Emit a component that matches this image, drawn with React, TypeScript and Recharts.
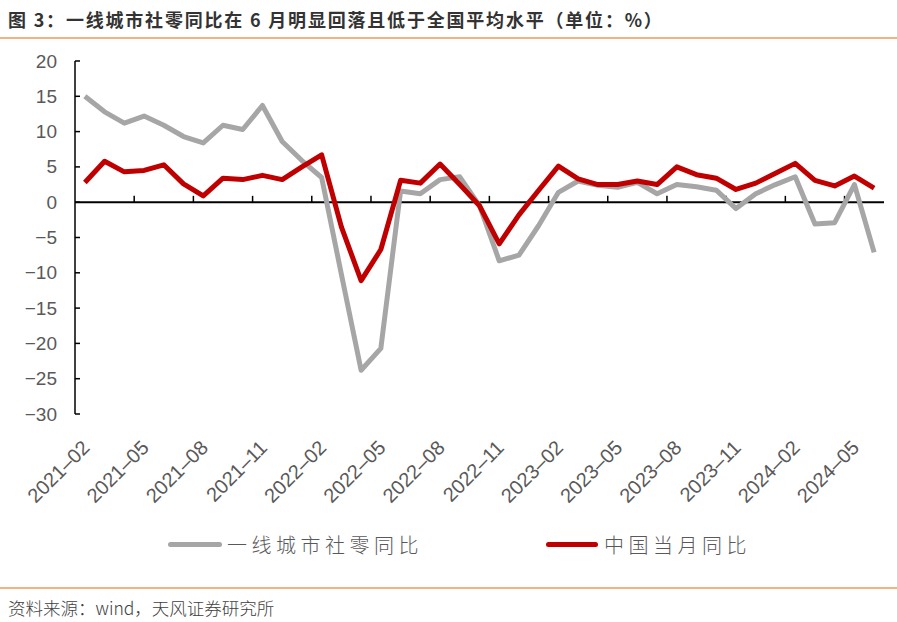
import React from "react";
import { LineChart, Line, XAxis, YAxis, ReferenceLine } from "recharts";

const months = [
  "2021-02", "2021-03", "2021-04", "2021-05", "2021-06", "2021-07", "2021-08", "2021-09", "2021-10", "2021-11", "2021-12",
  "2022-01", "2022-02", "2022-03", "2022-04", "2022-05", "2022-06", "2022-07", "2022-08", "2022-09", "2022-10", "2022-11", "2022-12",
  "2023-01", "2023-02", "2023-03", "2023-04", "2023-05", "2023-06", "2023-07", "2023-08", "2023-09", "2023-10", "2023-11", "2023-12",
  "2024-01", "2024-02", "2024-03", "2024-04", "2024-05", "2024-06",
];

const tierOne = [
  15.0, 12.8, 11.2, 12.2, 10.9, 9.3, 8.4, 10.9, 10.3, 13.7, 8.6,
  5.9, 3.5, -10.2, -23.8, -20.7, 1.6, 1.2, 3.2, 3.6, -0.5, -8.3, -7.5,
  -3.3, 1.4, 3.0, 2.4, 2.1, 2.8, 1.2, 2.5, 2.2, 1.7, -0.9, 1.2,
  2.5, 3.6, -3.1, -2.9, 2.5, -7.1,
];

const national = [
  2.8, 5.8, 4.3, 4.5, 5.3, 2.6, 0.9, 3.4, 3.2, 3.8, 3.2,
  5.0, 6.7, -3.5, -11.1, -6.7, 3.1, 2.7, 5.4, 2.5, -0.5, -5.9, -1.8,
  1.7, 5.1, 3.3, 2.5, 2.5, 3.0, 2.5, 5.0, 3.9, 3.4, 1.8, 2.7,
  4.1, 5.5, 3.1, 2.3, 3.7, 2.0,
];

const xTickLabels = [
  "2021-02", "2021-05", "2021-08", "2021-11", "2022-02", "2022-05", "2022-08",
  "2022-11", "2023-02", "2023-05", "2023-08", "2023-11", "2024-02", "2024-05",
];

const yTicks = [20, 15, 10, 5, 0, -5, -10, -15, -20, -25, -30];

const seriesNames = ["一线城市社零同比", "中国当月同比"];
const seriesColors = ["#A6A6A6", "#C00000"];

const data = months.map((m, i) => ({ idx: i, month: m, tierOne: tierOne[i], national: national[i] }));
const xTickIdx = xTickLabels.map((l) => months.indexOf(l));
const boundaryTicks = xTickIdx.filter((i) => i > 0).map((i) => i - 0.5);

const FONT_TICK = "'Liberation Sans', Arial, sans-serif";
const FONT_CJK = "'Noto Sans CJK SC', 'Noto Sans', sans-serif";

const XTick = (props: any) => {
  const { x, y, payload } = props;
  const label = months[payload.value] ?? "";
  return (
    <g transform={`translate(${x + 6},${y + 35})`}>
      <text transform="rotate(-45)" textAnchor="end" fill="#595959" fontSize={20} fontFamily={FONT_TICK}>
        {label.replace("-", "–")}
      </text>
    </g>
  );
};

const YTick = (props: any) => {
  const { x, y, payload } = props;
  const axisX = 75;
  return (
    <g>
      <line x1={axisX} x2={axisX + 5} y1={y} y2={y} stroke="#000" strokeWidth={1.5} />
      <text x={x} y={y} dy={6.5} textAnchor="end" fill="#595959" fontSize={19} fontFamily={FONT_TICK}>
        {payload.value < 0 ? "−" + Math.abs(payload.value) : String(payload.value)}
      </text>
    </g>
  );
};

export default function App() {
  return (
    <div style={{ position: "absolute", left: 0, top: 0, width: 897, height: 622, background: "#fff", overflow: "hidden" }}>
      <div
        style={{
          position: "absolute", left: 8, top: 6, fontFamily: FONT_CJK, fontWeight: 700, fontSize: 18,
          letterSpacing: 1.8, color: "#333333", whiteSpace: "nowrap", lineHeight: "26px",
        }}
      >
        图 3：一线城市社零同比在 6 月明显回落且低于全国平均水平（单位：%）
      </div>
      <div style={{ position: "absolute", left: 0, top: 37, width: 897, height: 1.5, background: "#F4B183" }} />

      <div style={{ position: "absolute", left: 0, top: 0 }}>
        <LineChart width={897} height={520} data={data} margin={{ top: 61, right: 13, bottom: 0, left: 0 }}>
          <XAxis
            dataKey="idx"
            type="number"
            domain={[-0.5, 40.5]}
            ticks={xTickIdx}
            interval={0}
            axisLine={false}
            tickLine={false}
            tickSize={0}
            tickMargin={0}
            height={106}
            tick={<XTick />}
          />
          <YAxis
            type="number"
            domain={[-30, 20]}
            ticks={yTicks}
            interval={0}
            width={75}
            axisLine={{ stroke: "#000", strokeWidth: 1.5 }}
            tickLine={false}
            tickSize={0}
            tickMargin={18}
            tick={<YTick />}
          />
          <ReferenceLine y={0} stroke="#000" strokeWidth={2} />
          {boundaryTicks.map((b) => (
            <ReferenceLine
              key={b}
              segment={[{ x: b, y: 0 }, { x: b, y: 0.9 }]}
              stroke="#000"
              strokeWidth={1.5}
            />
          ))}
          <Line
            type="linear"
            dataKey="tierOne"
            name={seriesNames[0]}
            stroke={seriesColors[0]}
            strokeWidth={5}
            dot={false}
            activeDot={false}
            strokeLinejoin="round"
            isAnimationActive={false}
          />
          <Line
            type="linear"
            dataKey="national"
            name={seriesNames[1]}
            stroke={seriesColors[1]}
            strokeWidth={5}
            dot={false}
            activeDot={false}
            strokeLinejoin="round"
            isAnimationActive={false}
          />
        </LineChart>
      </div>

      {/* legend */}
      <div style={{ position: "absolute", left: 168, top: 530, height: 28, display: "flex", alignItems: "center" }}>
        <div style={{ width: 54, height: 5, borderRadius: 2.5, background: seriesColors[0] }} />
        <span style={{ marginLeft: 5, fontFamily: FONT_CJK, fontWeight: 300, fontSize: 20, letterSpacing: 4.5, color: "#595959" }}>
          {seriesNames[0]}
        </span>
      </div>
      <div style={{ position: "absolute", left: 546, top: 530, height: 28, display: "flex", alignItems: "center" }}>
        <div style={{ width: 52, height: 5, borderRadius: 2.5, background: seriesColors[1] }} />
        <span style={{ marginLeft: 6, fontFamily: FONT_CJK, fontWeight: 300, fontSize: 20, letterSpacing: 4.5, color: "#595959" }}>
          {seriesNames[1]}
        </span>
      </div>

      <div style={{ position: "absolute", left: 0, top: 587, width: 897, height: 1.5, background: "#F4B183" }} />
      <div
        style={{
          position: "absolute", left: 8, top: 595, fontFamily: FONT_CJK, fontWeight: 300, fontSize: 17.5,
          color: "#404040", whiteSpace: "nowrap", lineHeight: "26px",
        }}
      >
        资料来源：wind，天风证券研究所
      </div>
    </div>
  );
}
